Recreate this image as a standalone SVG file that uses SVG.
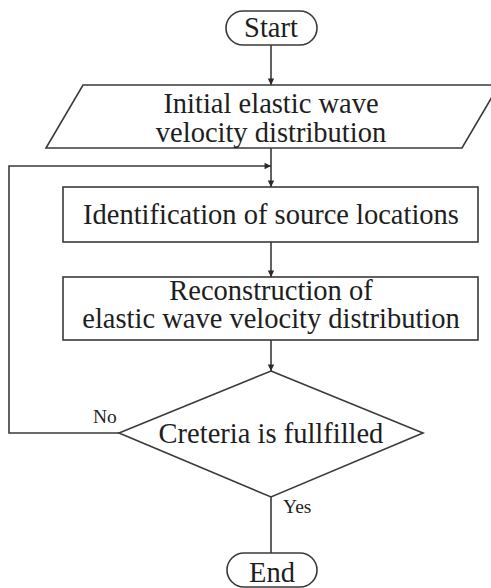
<svg xmlns="http://www.w3.org/2000/svg" width="491" height="588" viewBox="0 0 491 588">
  <style>
    .shape { fill: #ffffff; stroke: #3a3a3a; stroke-width: 1.6; }
    .line { fill: none; stroke: #3a3a3a; stroke-width: 1.6; }
    .txt { font-size: 28.5px; fill: #1e1e1e; text-anchor: middle; }
    .lbl { font-size: 19.5px; fill: #1e1e1e; }
  </style>
  <defs>
    <marker id="head" viewBox="0 0 10 14" refX="10" refY="7" markerWidth="9" markerHeight="9" markerUnits="userSpaceOnUse" orient="auto">
      <path d="M0,2 L10,7 L0,12 Z" fill="#2a2a2a"/>
    </marker>
  </defs>

  <rect width="491" height="588" fill="#ffffff"/>

  <g font-family="'Liberation Serif', 'DejaVu Serif', serif">
    <!-- connectors -->
    <g id="connectors">
      <line class="line" x1="271" y1="45" x2="271" y2="85" marker-end="url(#head)"/>
      <line class="line" x1="271" y1="148" x2="271" y2="187" marker-end="url(#head)"/>
      <line class="line" x1="271" y1="242" x2="271" y2="277" marker-end="url(#head)"/>
      <line class="line" x1="271" y1="340" x2="271" y2="371" marker-end="url(#head)"/>
      <polyline class="line" points="119,433 9,433 9,166 271,166" marker-end="url(#head)"/>
      <line class="line" x1="271" y1="497" x2="271" y2="553"/>
      <text class="lbl" x="93" y="423">No</text>
      <text class="lbl" x="283" y="513">Yes</text>
    </g>

    <!-- nodes -->
    <g id="start">
      <rect class="shape" x="226" y="11" width="91" height="34" rx="17" ry="17"/>
      <text class="txt" x="271" y="37">Start</text>
    </g>

    <g id="initial">
      <polygon class="shape" points="83,85 499,85 462,148 46,148"/>
      <text class="txt" x="271" y="113">Initial elastic wave</text>
      <text class="txt" x="271" y="142">velocity distribution</text>
    </g>

    <g id="identify">
      <rect class="shape" x="63" y="187" width="415" height="55"/>
      <text class="txt" x="271" y="224">Identification of source locations</text>
    </g>

    <g id="reconstruct">
      <rect class="shape" x="63" y="277" width="415" height="63"/>
      <text class="txt" x="271" y="300">Reconstruction of</text>
      <text class="txt" x="271" y="328">elastic wave velocity distribution</text>
    </g>

    <g id="criteria">
      <polygon class="shape" points="271,371 423,433 271,497 119,433"/>
      <text class="txt" x="271" y="443">Creteria is fullfilled</text>
    </g>

    <g id="end">
      <rect class="shape" x="227" y="553" width="90" height="34" rx="17" ry="17"/>
      <text class="txt" x="272" y="582">End</text>
    </g>
  </g>
</svg>
